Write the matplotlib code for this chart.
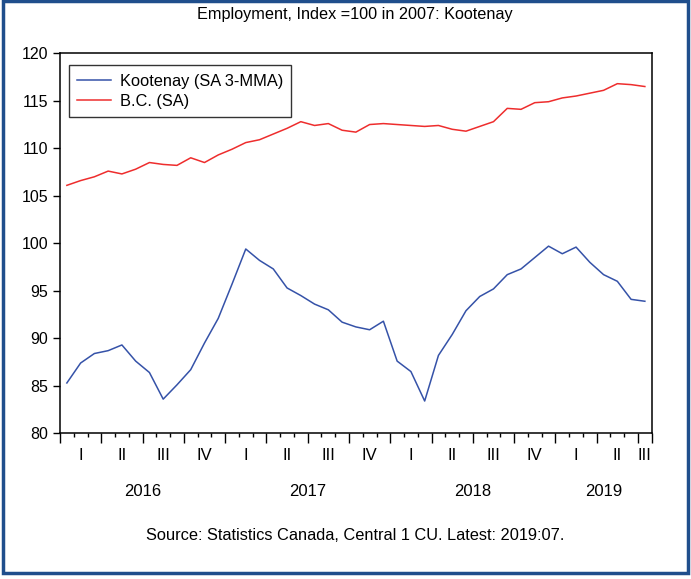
import numpy as np
import matplotlib
matplotlib.use("Agg")
import matplotlib.pyplot as plt
import matplotlib.transforms as mtransforms
from matplotlib.patches import Rectangle

plt.rcParams['font.family'] = ['Liberation Sans', 'DejaVu Sans']

# monthly values, Jan 2016 .. Jul 2019
kootenay = [85.3, 87.4, 88.4, 88.7, 89.3, 87.6, 86.4, 83.6, 85.1, 86.7,
            89.5, 92.1, 95.7, 99.4, 98.2, 97.3, 95.3, 94.5, 93.6, 93.0,
            91.7, 91.2, 90.9, 91.8, 87.6, 86.5, 83.4, 88.2, 90.4, 92.9,
            94.4, 95.2, 96.7, 97.3, 98.5, 99.7, 98.9, 99.6, 98.0, 96.7,
            96.0, 94.1, 93.9]
bc = [106.1, 106.6, 107.0, 107.6, 107.3, 107.8, 108.5, 108.3, 108.2, 109.0,
      108.5, 109.3, 109.9, 110.6, 110.9, 111.5, 112.1, 112.8, 112.4, 112.6,
      111.9, 111.7, 112.5, 112.6, 112.5, 112.4, 112.3, 112.4, 112.0, 111.8,
      112.3, 112.8, 114.2, 114.1, 114.8, 114.9, 115.3, 115.5, 115.8, 116.1,
      116.8, 116.7, 116.5]
quarter_labels = ['I', 'II', 'III', 'IV'] * 3 + ['I', 'II', 'III']
years = ['2016', '2017', '2018', '2019']

n = len(kootenay)
x = np.arange(n) + 0.5

fig = plt.figure(figsize=(6.91, 5.79), dpi=100)
ax = fig.add_axes([0.0868, 0.2516, 0.8564, 0.6564])

ax.plot(x, kootenay, color='#3552a8', lw=1.1, label='Kootenay (SA 3-MMA)')
ax.plot(x, bc, color='#ee2d2d', lw=1.1, label='B.C. (SA)')

ax.set_xlim(0, n)
ax.set_ylim(80, 120)
ax.set_yticks(np.arange(80, 121, 5))
ax.tick_params(axis='y', labelsize=11.5, length=5, direction='out', width=1, colors='black')

ax.set_xticks(list(range(0, n, 3)) + [n])
ax.set_xticks(np.arange(n + 1), minor=True)
ax.tick_params(axis='x', which='major', length=7, width=1, labelbottom=False)
ax.tick_params(axis='x', which='minor', length=3, width=1)
for s in ax.spines.values():
    s.set_linewidth(1.1)

# quarter and year labels
trans = mtransforms.blended_transform_factory(ax.transData, fig.transFigure)
for q, lab in enumerate(quarter_labels):
    start = q * 3
    end = min(start + 3, n)
    ax.text((start + end) / 2, 1 - 456 / 579, lab, transform=trans,
            ha='center', va='center', fontsize=12)
for k, yr in enumerate(years):
    start = k * 12
    end = min(start + 12, n)
    ax.text((start + end) / 2, 1 - 491 / 579, yr, transform=trans,
            ha='center', va='center', fontsize=12)

leg = ax.legend(loc='upper left', bbox_to_anchor=(0.015, 0.968), borderaxespad=0,
                fontsize=11.8, frameon=True, fancybox=False, edgecolor='black',
                handlelength=2.1, handletextpad=0.5, borderpad=0.5, labelspacing=0.3)
leg.get_frame().set_linewidth(1.0)

fig.text(355 / 691, 1 - 15 / 579, 'Employment, Index =100 in 2007: Kootenay',
         ha='center', va='center', fontsize=11.7)
fig.text(355 / 691, 1 - 535 / 579, 'Source: Statistics Canada, Central 1 CU. Latest: 2019:07.',
         ha='center', va='center', fontsize=11.8)

# outer border
fig.patches.append(Rectangle((3 / 691, 1 - 573 / 579), 685 / 691, 572 / 579,
                             transform=fig.transFigure, fill=False,
                             edgecolor='#1f4e8c', lw=2.5))

fig.savefig('out.png', dpi=100)
